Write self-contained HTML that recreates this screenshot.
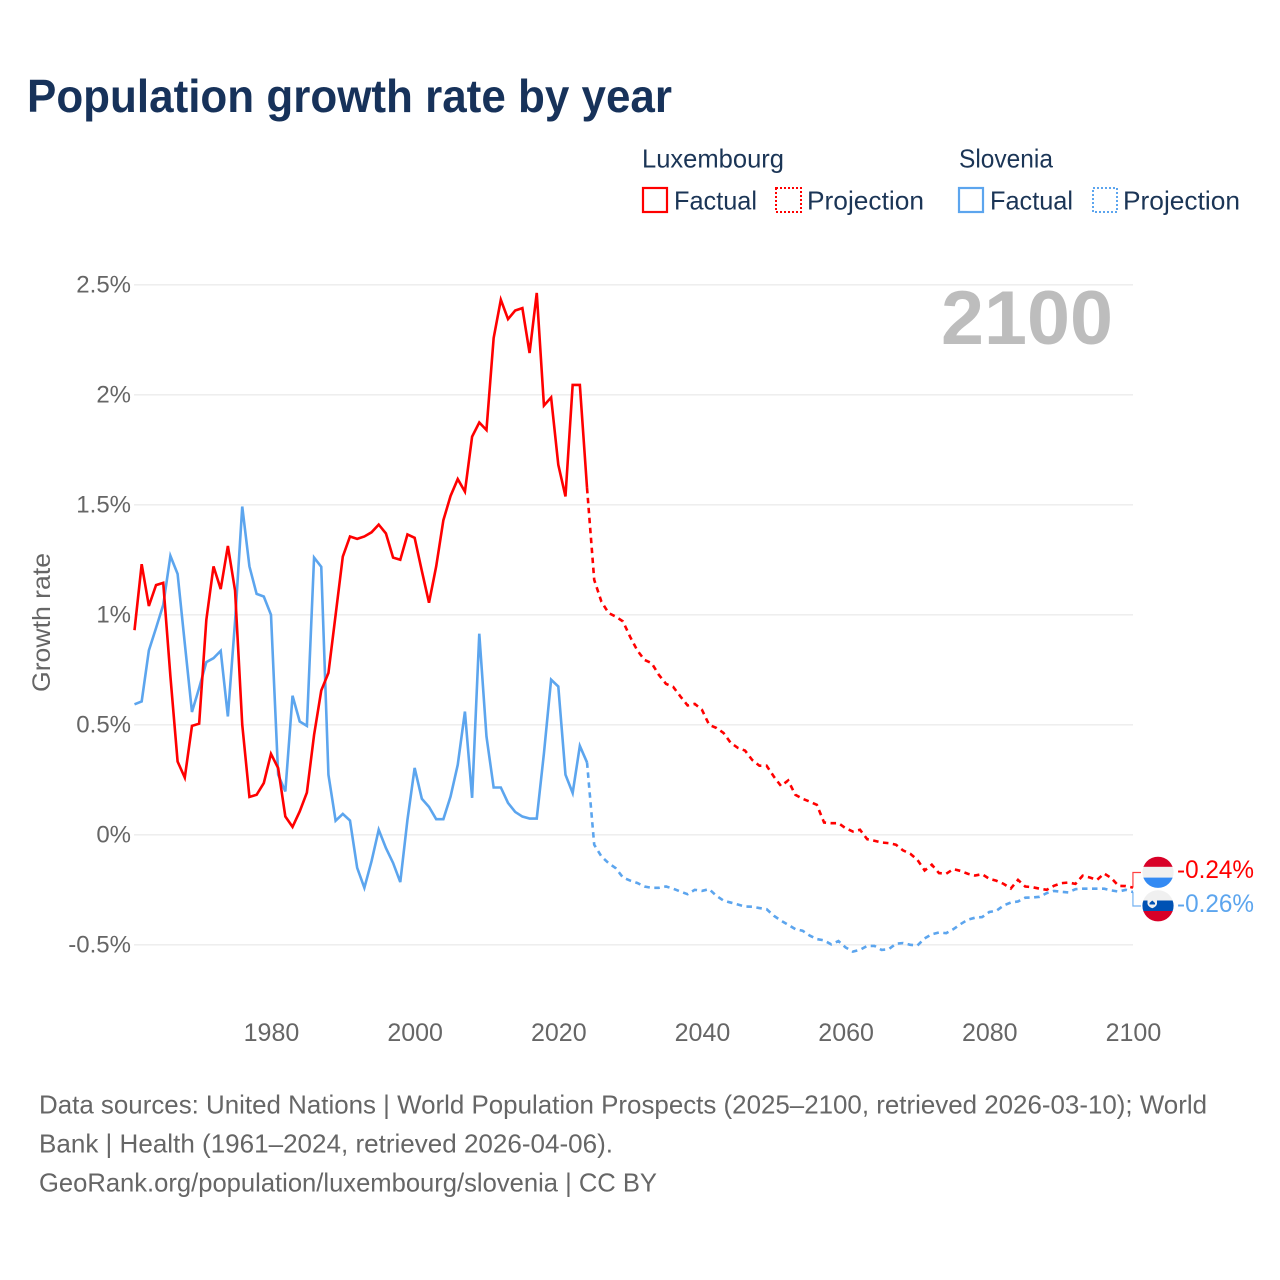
<!DOCTYPE html>
<html lang="en">
<head>
<meta charset="utf-8">
<title>Population growth rate by year</title>
<style>
html,body{margin:0;padding:0;background:#fff;width:1280px;height:1280px;overflow:hidden}
svg{display:block}
text{font-family:"Liberation Sans",sans-serif}
.leg{font-size:26px;fill:#1b3556}
.foot{font-size:26px;fill:#666}
.tick{font-size:24px;fill:#666}
</style>
</head>
<body>
<svg id="chart" xmlns="http://www.w3.org/2000/svg" width="1280" height="1280" viewBox="0 0 1280 1280">
  <rect x="0" y="0" width="1280" height="1280" fill="#fff"/>
  <text x="27" y="112" font-size="46" font-weight="700" fill="#17325a" textLength="645" lengthAdjust="spacingAndGlyphs">Population growth rate by year</text>

  <g>
    <text class="leg" x="642" y="167.5" textLength="142" lengthAdjust="spacingAndGlyphs">Luxembourg</text>
    <rect x="643" y="188" width="24" height="24" fill="none" stroke="#ff0000" stroke-width="2.2"/>
    <text class="leg" x="674" y="209.5" textLength="83" lengthAdjust="spacingAndGlyphs">Factual</text>
    <rect x="776" y="188" width="25" height="24" fill="none" stroke="#ff0000" stroke-width="2" stroke-dasharray="2 2"/>
    <text class="leg" x="807" y="209.5" textLength="117" lengthAdjust="spacingAndGlyphs">Projection</text>

    <text class="leg" x="959" y="167.5" textLength="94" lengthAdjust="spacingAndGlyphs">Slovenia</text>
    <rect x="959" y="188" width="24" height="24" fill="none" stroke="#5ca5ee" stroke-width="2.2"/>
    <text class="leg" x="990" y="209.5" textLength="83" lengthAdjust="spacingAndGlyphs">Factual</text>
    <rect x="1093" y="188" width="24" height="24" fill="none" stroke="#5ca5ee" stroke-width="2" stroke-dasharray="2 2"/>
    <text class="leg" x="1123" y="209.5" textLength="117" lengthAdjust="spacingAndGlyphs">Projection</text>
  </g>

  <g id="grid"></g>
  <g id="yticks"></g>
  <g id="xticks"></g>
  <text transform="translate(50,622.5) rotate(-90)" text-anchor="middle" font-size="25" fill="#666" textLength="139" lengthAdjust="spacingAndGlyphs">Growth rate</text>
  <text x="941" y="344" font-size="76" font-weight="700" fill="#bdbdbd" textLength="172" lengthAdjust="spacingAndGlyphs">2100</text>
  <g id="series"></g>

  <g id="end-labels">
    <g>
      <clipPath id="clip-lu"><circle cx="1158" cy="872.3" r="15.6"/></clipPath>
      <g clip-path="url(#clip-lu)">
        <rect x="1142" y="856" width="32" height="11" fill="#d80027"/>
        <rect x="1142" y="866.8" width="32" height="11" fill="#f0f0f0"/>
        <rect x="1142" y="877.6" width="32" height="11" fill="#338af3"/>
      </g>
    </g>
    <g>
      <clipPath id="clip-si"><circle cx="1158" cy="905.8" r="15.6"/></clipPath>
      <g clip-path="url(#clip-si)">
        <rect x="1142" y="890" width="32" height="11" fill="#f0f0f0"/>
        <rect x="1142" y="900.5" width="32" height="11" fill="#0052b4"/>
        <rect x="1142" y="911" width="32" height="11" fill="#d80027"/>
      </g>
      <path d="M1147.5 898.5h9.5v5.5q-1 3-4.75 4.2q-3.75-1.2-4.75-4.2z" fill="#f0f0f0"/>
      <path d="M1149.5 903l2.75-2.5l2.75 2.5v1.5h-5.5z" fill="#0052b4"/>
    </g>
    <text x="1177" y="878" font-size="25" fill="#ff0000" textLength="77" lengthAdjust="spacingAndGlyphs">-0.24%</text>
    <text x="1177" y="912" font-size="25" fill="#5ca5ee" textLength="77" lengthAdjust="spacingAndGlyphs">-0.26%</text>
  </g>

  <g>
    <text class="foot" x="39" y="1113.5" textLength="1168" lengthAdjust="spacingAndGlyphs">Data sources: United Nations | World Population Prospects (2025–2100, retrieved 2026-03-10); World</text>
    <text class="foot" x="39" y="1152.5" textLength="574" lengthAdjust="spacingAndGlyphs">Bank | Health (1961–2024, retrieved 2026-04-06).</text>
    <text class="foot" x="39" y="1191.5" textLength="618" lengthAdjust="spacingAndGlyphs">GeoRank.org/population/luxembourg/slovenia | CC BY</text>
  </g>
</svg>
<script>
const yTickValues = [-0.5, 0, 0.5, 1, 1.5, 2, 2.5];
const yTickLabels = ["-0.5%", "0%", "0.5%", "1%", "1.5%", "2%", "2.5%"];
const xTickYears = [1980, 2000, 2020, 2040, 2060, 2080, 2100];
const factualStartYear = 1961;
const projectionStartYear = 2024;

const luxembourgFactual = [
  0.93, 1.23, 1.04, 1.135, 1.145, 0.72, 0.333, 0.26, 0.495, 0.505,
  0.977, 1.22, 1.117, 1.313, 1.11, 0.5, 0.172, 0.182, 0.235, 0.368,
  0.303, 0.083, 0.036, 0.106, 0.192, 0.454, 0.656, 0.736, 1.0, 1.265,
  1.356, 1.345, 1.356, 1.375, 1.41, 1.37, 1.26, 1.25, 1.365, 1.35,
  1.2, 1.055, 1.22, 1.43, 1.54, 1.617, 1.56, 1.81, 1.874, 1.84,
  2.258, 2.432, 2.344, 2.383, 2.394, 2.19, 2.463, 1.951, 1.988, 1.682,
  1.538, 2.045, 2.045, 1.577
];
const slovenianFactual = [
  0.593, 0.606, 0.838, 0.94, 1.045, 1.268, 1.186, 0.87, 0.558, 0.667,
  0.785, 0.803, 0.836, 0.538, 0.97, 1.492, 1.22, 1.095, 1.083, 1.0,
  0.273, 0.197, 0.632, 0.515, 0.495, 1.26, 1.218, 0.273, 0.064, 0.095,
  0.065, -0.15, -0.241, -0.12, 0.023, -0.06, -0.128, -0.215, 0.068, 0.304,
  0.164, 0.127, 0.071, 0.071, 0.174, 0.318, 0.56, 0.168, 0.914, 0.447,
  0.215, 0.215, 0.145, 0.104, 0.083, 0.074, 0.074, 0.37, 0.705, 0.674,
  0.273, 0.19, 0.404, 0.329
];
const luxembourgProjection = [
  1.577, 1.159, 1.06, 1.008, 0.992, 0.97, 0.9, 0.838, 0.795, 0.78,
  0.727, 0.686, 0.672, 0.629, 0.588, 0.595, 0.568, 0.5, 0.486, 0.463,
  0.418, 0.395, 0.383, 0.34, 0.314, 0.314, 0.265, 0.222, 0.247, 0.182,
  0.164, 0.151, 0.136, 0.056, 0.053, 0.053, 0.03, 0.015, 0.023, -0.02,
  -0.027, -0.035, -0.038, -0.045, -0.071, -0.086, -0.114, -0.162, -0.136, -0.174,
  -0.177, -0.156, -0.164, -0.177, -0.185, -0.179, -0.2, -0.209, -0.223, -0.244,
  -0.205, -0.235, -0.238, -0.245, -0.25, -0.232, -0.22, -0.217, -0.223, -0.186,
  -0.194, -0.205, -0.176, -0.197, -0.232, -0.233, -0.24
];
const slovenianProjection = [
  0.329, -0.045, -0.098, -0.129, -0.152, -0.194, -0.208, -0.219, -0.235, -0.241,
  -0.241, -0.235, -0.245, -0.258, -0.27, -0.25, -0.255, -0.247, -0.277, -0.299,
  -0.308, -0.317, -0.326, -0.327, -0.333, -0.338, -0.368, -0.39, -0.409, -0.429,
  -0.436, -0.458, -0.474, -0.48, -0.498, -0.483, -0.512, -0.531, -0.523, -0.505,
  -0.505, -0.523, -0.52, -0.495, -0.492, -0.5, -0.503, -0.471, -0.452, -0.444,
  -0.447, -0.429, -0.406, -0.386, -0.377, -0.374, -0.351, -0.345, -0.321, -0.308,
  -0.303, -0.286, -0.285, -0.282, -0.265, -0.255, -0.259, -0.262, -0.247, -0.245,
  -0.245, -0.245, -0.245, -0.253, -0.258, -0.25, -0.26
];

const NS = "http://www.w3.org/2000/svg";
function xScale(year) { return 134.5 + (year - 1961) * 7.183; }
function yScale(value) { return 834.8 - value * 220; }
function make(tag, attrs, parent) {
  const el = document.createElementNS(NS, tag);
  for (const k in attrs) el.setAttribute(k, attrs[k]);
  parent.appendChild(el);
  return el;
}
function pathFrom(values, startYear) {
  return values.map(function (v, i) {
    return (i ? "L" : "M") + xScale(startYear + i).toFixed(2) + " " + yScale(v).toFixed(2);
  }).join("");
}

const gridGroup = document.getElementById("grid");
const yGroup = document.getElementById("yticks");
yTickValues.forEach(function (v, i) {
  const line = make("line", { x1: 134, x2: 1133, y1: yScale(v), y2: yScale(v), stroke: "#ebebeb", "stroke-width": 1.4 }, gridGroup);
  
  
  const label = make("text", { x: 131, y: yScale(v) + 7.7, "text-anchor": "end", "class": "tick" }, yGroup);
  
  
  label.textContent = yTickLabels[i];
});

const xGroup = document.getElementById("xticks");
xTickYears.forEach(function (year) {
  const label = make("text", { x: xScale(year) + 0.5, y: 1041, "text-anchor": "middle", "class": "tick", style: "font-size:25px" }, xGroup);
  
  
  label.textContent = String(year);
});

const seriesGroup = document.getElementById("series");
function drawLine(values, startYear, color, dashed, name) {
  const attrs = { d: pathFrom(values, startYear), fill: "none", stroke: color, "stroke-width": 2.6, "stroke-linejoin": "miter" };
  if (dashed) attrs["stroke-dasharray"] = "5.5 4.5";
  const p = make("path", attrs, seriesGroup);
  
  
}
drawLine(slovenianFactual, factualStartYear, "#5ca5ee", false, "line-slovenia-factual");
drawLine(slovenianProjection, projectionStartYear, "#5ca5ee", true, "line-slovenia-projection");
drawLine(luxembourgFactual, factualStartYear, "#ff0000", false, "line-luxembourg-factual");
drawLine(luxembourgProjection, projectionStartYear, "#ff0000", true, "line-luxembourg-projection");

const endGroup = document.getElementById("end-labels");
const endX = xScale(2100);
const luConnector = make("path", { d: "M" + endX + " " + yScale(luxembourgProjection[luxembourgProjection.length - 1]) + "V872.5H1141", fill: "none", stroke: "#ff0000", "stroke-opacity": 0.75, "stroke-width": 1.2 }, endGroup);


const siConnector = make("path", { d: "M" + endX + " " + yScale(slovenianProjection[slovenianProjection.length - 1]) + "V906H1141", fill: "none", stroke: "#5ca5ee", "stroke-opacity": 0.85, "stroke-width": 1.2 }, endGroup);


</script>
</body>
</html>
